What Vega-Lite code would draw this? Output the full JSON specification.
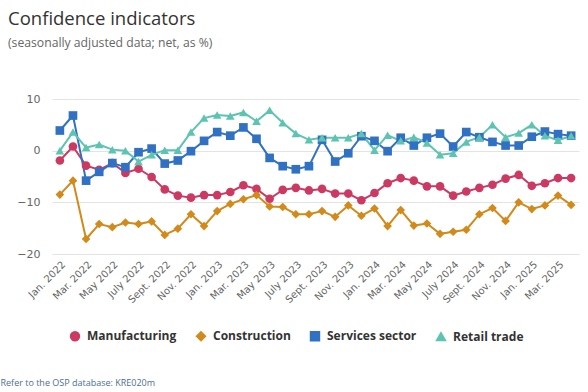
{
  "$schema": "https://vega.github.io/schema/vega-lite/v6.json",
  "width": 527,
  "height": 155,
  "padding": {"left": 0, "top": 10, "right": 8, "bottom": 4},
  "background": "white",
  "title": {
    "text": "Confidence indicators",
    "subtitle": "(seasonally adjusted data; net, as %)",
    "anchor": "start",
    "frame": "group",
    "dx": -44,
    "font": "Open Sans",
    "fontSize": 18.5,
    "fontWeight": "normal",
    "color": "#333333",
    "subtitleFont": "Open Sans",
    "subtitleFontSize": 12.2,
    "subtitleColor": "#666666",
    "subtitlePadding": 8,
    "offset": 44
  },
  "data": {
    "values": [
      {"m": "Jan. 2022", "Manufacturing": -1.9, "Construction": -8.5, "Services sector": 3.9, "Retail trade": 0.0},
      {"m": "Feb. 2022", "Manufacturing": 0.8, "Construction": -5.8, "Services sector": 6.8, "Retail trade": 3.6},
      {"m": "Mar. 2022", "Manufacturing": -2.9, "Construction": -17.1, "Services sector": -5.8, "Retail trade": 0.6},
      {"m": "Apr. 2022", "Manufacturing": -3.7, "Construction": -14.2, "Services sector": -4.1, "Retail trade": 1.2},
      {"m": "May 2022", "Manufacturing": -2.4, "Construction": -14.8, "Services sector": -2.4, "Retail trade": 0.2},
      {"m": "June 2022", "Manufacturing": -4.3, "Construction": -13.9, "Services sector": -3.2, "Retail trade": 0.0},
      {"m": "July 2022", "Manufacturing": -3.5, "Construction": -14.2, "Services sector": -0.3, "Retail trade": -2.1},
      {"m": "Aug. 2022", "Manufacturing": -5.1, "Construction": -13.7, "Services sector": 0.4, "Retail trade": -0.8},
      {"m": "Sept. 2022", "Manufacturing": -7.5, "Construction": -16.3, "Services sector": -2.5, "Retail trade": 0.1},
      {"m": "Oct. 2022", "Manufacturing": -8.7, "Construction": -15.1, "Services sector": -1.9, "Retail trade": 0.1},
      {"m": "Nov. 2022", "Manufacturing": -9.1, "Construction": -12.3, "Services sector": -0.1, "Retail trade": 3.6},
      {"m": "Dec. 2022", "Manufacturing": -8.6, "Construction": -14.6, "Services sector": 1.9, "Retail trade": 6.3},
      {"m": "Jan. 2023", "Manufacturing": -8.6, "Construction": -11.7, "Services sector": 3.6, "Retail trade": 6.9},
      {"m": "Feb. 2023", "Manufacturing": -8.0, "Construction": -10.3, "Services sector": 2.9, "Retail trade": 6.7},
      {"m": "Mar. 2023", "Manufacturing": -6.7, "Construction": -9.4, "Services sector": 4.5, "Retail trade": 7.4},
      {"m": "Apr. 2023", "Manufacturing": -7.4, "Construction": -8.6, "Services sector": 2.3, "Retail trade": 5.7},
      {"m": "May 2023", "Manufacturing": -9.3, "Construction": -10.8, "Services sector": -1.4, "Retail trade": 7.8},
      {"m": "June 2023", "Manufacturing": -7.6, "Construction": -10.9, "Services sector": -3.0, "Retail trade": 5.4},
      {"m": "July 2023", "Manufacturing": -7.2, "Construction": -12.3, "Services sector": -3.6, "Retail trade": 3.3},
      {"m": "Aug. 2023", "Manufacturing": -7.7, "Construction": -12.3, "Services sector": -3.0, "Retail trade": 2.1},
      {"m": "Sept. 2023", "Manufacturing": -7.4, "Construction": -11.7, "Services sector": 2.1, "Retail trade": 2.5},
      {"m": "Oct. 2023", "Manufacturing": -8.3, "Construction": -12.8, "Services sector": -2.1, "Retail trade": 2.5},
      {"m": "Nov. 2023", "Manufacturing": -8.3, "Construction": -10.6, "Services sector": -0.5, "Retail trade": 2.5},
      {"m": "Dec. 2023", "Manufacturing": -9.6, "Construction": -12.6, "Services sector": 2.8, "Retail trade": 3.3},
      {"m": "Jan. 2024", "Manufacturing": -8.2, "Construction": -11.2, "Services sector": 1.9, "Retail trade": 0.1},
      {"m": "Feb. 2024", "Manufacturing": -6.3, "Construction": -14.6, "Services sector": -0.1, "Retail trade": 3.0},
      {"m": "Mar. 2024", "Manufacturing": -5.3, "Construction": -11.5, "Services sector": 2.5, "Retail trade": 1.9},
      {"m": "Apr. 2024", "Manufacturing": -5.8, "Construction": -14.5, "Services sector": 1.0, "Retail trade": 2.6},
      {"m": "May 2024", "Manufacturing": -6.9, "Construction": -14.1, "Services sector": 2.5, "Retail trade": 1.5},
      {"m": "June 2024", "Manufacturing": -6.9, "Construction": -16.1, "Services sector": 3.3, "Retail trade": -0.8},
      {"m": "July 2024", "Manufacturing": -8.7, "Construction": -15.7, "Services sector": 0.8, "Retail trade": -0.5},
      {"m": "Aug. 2024", "Manufacturing": -7.9, "Construction": -15.3, "Services sector": 3.6, "Retail trade": 1.7},
      {"m": "Sept. 2024", "Manufacturing": -7.2, "Construction": -12.3, "Services sector": 2.6, "Retail trade": 2.6},
      {"m": "Oct. 2024", "Manufacturing": -6.6, "Construction": -11.1, "Services sector": 1.7, "Retail trade": 5.0},
      {"m": "Nov. 2024", "Manufacturing": -5.4, "Construction": -13.6, "Services sector": 1.0, "Retail trade": 2.6},
      {"m": "Dec. 2024", "Manufacturing": -4.7, "Construction": -10.0, "Services sector": 1.0, "Retail trade": 3.4},
      {"m": "Jan. 2025", "Manufacturing": -6.8, "Construction": -11.3, "Services sector": 2.7, "Retail trade": 5.0},
      {"m": "Feb. 2025", "Manufacturing": -6.3, "Construction": -10.6, "Services sector": 3.7, "Retail trade": 2.9},
      {"m": "Mar. 2025", "Manufacturing": -5.3, "Construction": -8.7, "Services sector": 3.2, "Retail trade": 2.0},
      {"m": "Apr. 2025", "Manufacturing": -5.3, "Construction": -10.5, "Services sector": 2.9, "Retail trade": 2.9}
    ]
  },
  "transform": [
    {"fold": ["Manufacturing", "Construction", "Services sector", "Retail trade"], "as": ["series", "value"]}
  ],
  "encoding": {
    "x": {
      "field": "m",
      "type": "ordinal",
      "sort": null,
      "scale": {"type": "point", "padding": 0.6},
      "axis": {
        "values": ["Jan. 2022", "Mar. 2022", "May 2022", "July 2022", "Sept. 2022", "Nov. 2022", "Jan. 2023", "Mar. 2023", "May 2023", "July 2023", "Sept. 2023", "Nov. 2023", "Jan. 2024", "Mar. 2024", "May 2024", "July 2024", "Sept. 2024", "Nov. 2024", "Jan. 2025", "Mar. 2025"],
        "labelAngle": -45,
        "labelAlign": "right",
        "labelBaseline": "top",
        "labelFont": "DejaVu Sans",
        "labelFontSize": 10,
        "labelColor": "#666666",
        "labelPadding": 5,
        "ticks": false,
        "domain": false,
        "grid": false,
        "title": "Refer to the OSP database: KRE020m",
        "titleX": -52,
        "titleY": 128,
        "titleAlign": "left",
        "titleAnchor": "start",
        "titleBaseline": "middle",
        "titleFont": "Open Sans",
        "titleFontSize": 9,
        "titleFontWeight": "normal",
        "titleColor": "#4d6f8f"
      }
    },
    "y": {
      "field": "value",
      "type": "quantitative",
      "scale": {"domain": [-20, 10], "nice": false, "zero": false},
      "axis": {
        "values": [-20, -10, 0, 10],
        "title": null,
        "domain": false,
        "ticks": false,
        "labelPadding": 12,
        "labelFont": "DejaVu Sans",
        "labelFontSize": 11,
        "labelColor": "#666666",
        "gridColor": "#e3e3e3",
        "gridWidth": 1
      }
    },
    "color": {
      "field": "series",
      "type": "nominal",
      "sort": ["Manufacturing", "Construction", "Services sector", "Retail trade"],
      "scale": {
        "domain": ["Manufacturing", "Construction", "Services sector", "Retail trade"],
        "range": ["#cc3a63", "#d28a1a", "#3171c4", "#5cc4b0"]
      },
      "legend": {
        "title": null,
        "orient": "none",
        "legendX": 17,
        "legendY": 231,
        "direction": "horizontal",
        "labelFont": "Open Sans",
        "labelFontSize": 12,
        "labelFontWeight": "bold",
        "labelColor": "#333333",
        "symbolSize": 80,
        "columnPadding": 16,
        "labelOffset": 6
      }
    }
  },
  "layer": [
    {
      "mark": {"type": "line", "strokeWidth": 2}
    },
    {
      "mark": {"type": "point", "filled": true, "opacity": 1, "size": 75},
      "encoding": {
        "shape": {
          "field": "series",
          "type": "nominal",
          "sort": ["Manufacturing", "Construction", "Services sector", "Retail trade"],
          "scale": {
            "domain": ["Manufacturing", "Construction", "Services sector", "Retail trade"],
            "range": ["circle", "diamond", "square", "triangle-up"]
          },
          "legend": {
            "title": null,
            "orient": "none",
            "legendX": 17,
            "legendY": 231,
            "direction": "horizontal",
            "labelFont": "Open Sans",
            "labelFontSize": 12,
            "labelFontWeight": "bold",
            "labelColor": "#333333",
            "symbolSize": 80,
            "columnPadding": 16,
            "labelOffset": 6
          }
        }
      }
    }
  ],
  "config": {
    "view": {"stroke": null}
  }
}
